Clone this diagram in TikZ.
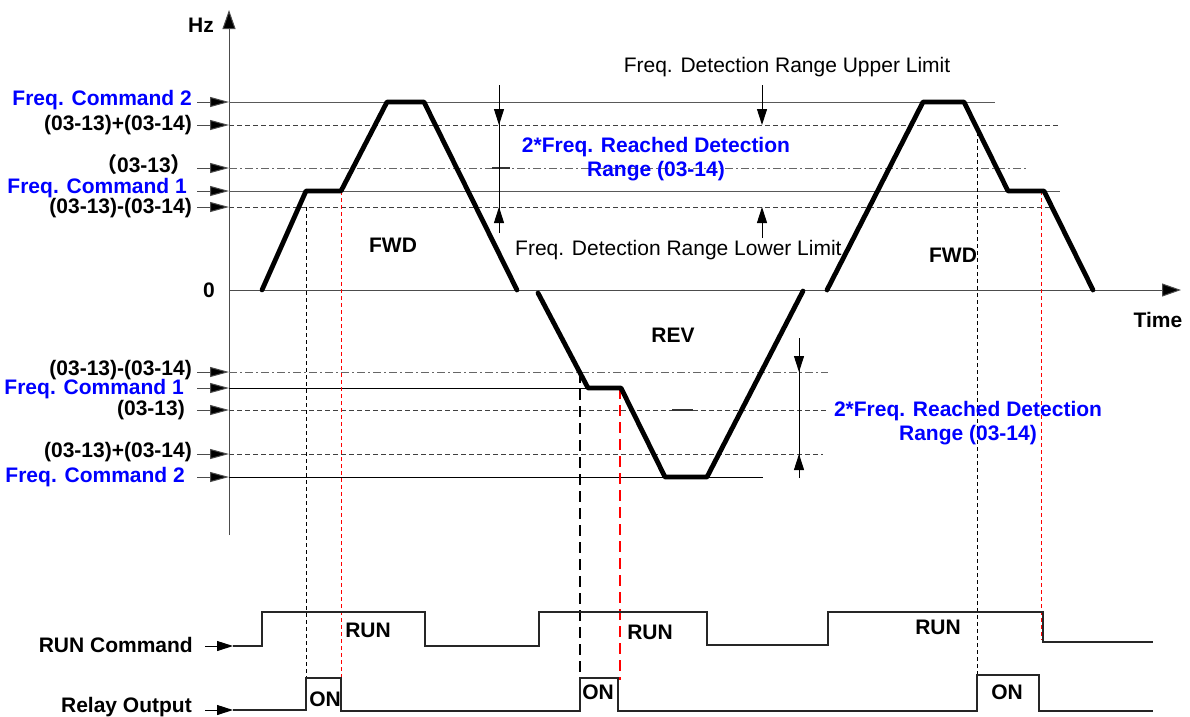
\documentclass[tikz,border=0pt]{standalone}
\usepackage{fontspec}
\setmainfont{Liberation Sans}
\newfontfamily\cjk{Noto Sans CJK SC}
\usetikzlibrary{arrows.meta}
\begin{document}
\begin{tikzpicture}[x=1pt,y=-1pt,
  lbl/.style={font=\fontsize{21}{24}\selectfont\bfseries, inner sep=0pt},
  blbl/.style={lbl, text=blue},
  nrm/.style={font=\fontsize{21}{24}\selectfont, inner sep=0pt},
  gline/.style={draw=black!65, line width=1pt},
  bline/.style={draw=black, line width=1pt},
  dline/.style={draw=black!75, line width=1pt, dash pattern=on 5pt off 3pt},
  ddline/.style={draw=black!60, line width=1pt, dash pattern=on 8pt off 3pt on 2pt off 3pt},
  tarr/.style={draw=black!70, line width=1pt, -{Triangle[length=19pt,width=10pt,fill=black]}},
  sarr/.style={draw=black, line width=1pt, -{Triangle[length=16pt,width=10pt,fill=black]}},
  axarr/.style={draw=black!70, line width=1pt, -{Triangle[length=19pt,width=13pt,fill=black]}},
  trap/.style={draw=black, line width=4.8pt, line cap=round, line join=round},
  vblack/.style={draw=black, line width=0.9pt, dash pattern=on 4pt off 3pt},
  vred/.style={draw=red, line width=0.9pt, dash pattern=on 4pt off 3pt},
  vblackL/.style={draw=black, line width=1.6pt, dash pattern=on 11pt off 6pt},
  vredL/.style={draw=red, line width=1.6pt, dash pattern=on 11pt off 6pt},
  sig/.style={draw=black!85, line width=1.2pt},
]
\useasboundingbox (0,0) rectangle (1190,716);

% axes
\coordinate (yb) at (229,535);
\coordinate (yt) at (229,10);
\coordinate (x0) at (229,290);
\coordinate (xe) at (1181,290);
\draw[axarr] (yb) -- (yt);
\draw[axarr] (x0) -- (xe);
\node[lbl, anchor=east] (hz) at (214,25) {Hz};
\node[lbl] (zero) at (209,290) {0};
\node[lbl] (time) at (1158,320) {Time};

% upper levels
\draw[gline] (229,102) -- (995,102);
\draw[dline] (229,125) -- (1060,125);
\draw[ddline] (229,168) -- (1027,168);
\draw[gline] (229,191) -- (1060,191);
\draw[dline] (229,207) -- (1053,207);
\draw[draw=black!80, line width=1.2pt] (492,168) -- (510,168);

% lower levels
\draw[ddline] (229,372) -- (828,372);
\draw[bline] (229,388) -- (590,388);
\draw[dline] (229,410) -- (828,410);
\draw[dline] (229,454) -- (823,454);
\draw[bline] (229,477) -- (763,477);
\draw[draw=black!80, line width=1.2pt] (672,410) -- (693,410);

% level labels (upper)
\node[blbl, anchor=east] (u1) at (192,100) {Freq. Command 2};
\node[lbl, anchor=east] (u2) at (192,125) {(03-13)+(03-14)};
\node[lbl, anchor=east, text height=14pt, text depth=2pt] (u3) at (192,166) {{\cjk （}03-13{\cjk ）}};
\node[blbl, anchor=east, text height=14pt, text depth=4pt] (u4) at (187,188) {Freq. Command 1};
\node[lbl, anchor=east] (u5) at (192,208) {(03-13)-(03-14)};
\foreach \yy in {102,125,168,191,207} \draw[tarr] (197,\yy) -- (229,\yy);

% level labels (lower)
\node[lbl, anchor=east] (l1) at (192,370) {(03-13)-(03-14)};
\node[blbl, anchor=east] (l2) at (184,389) {Freq. Command 1};
\node[lbl, anchor=east] (l3) at (185,410) {(03-13)};
\node[lbl, anchor=east] (l4) at (192,452) {(03-13)+(03-14)};
\node[blbl, anchor=east] (l5) at (185,477) {Freq. Command 2};
\foreach \yy in {372,388,410,454,477} \draw[tarr] (197,\yy) -- (229,\yy);

% vertical guide lines
\draw[vblack] (306,207) -- (306,678);
\draw[vred] (341,191) -- (341,710);
\draw[vblackL] (580,372) -- (580,680);
\draw[vredL] (620,388) -- (620,680);
\draw[vblack] (977,125) -- (977,675);
\draw[vred] (1041,191) -- (1041,640);

% speed profile
\draw[trap] (262,290) -- (306,191) -- (341,191) -- (387,102) -- (424,102) -- (517,290);
\draw[trap] (538,293) -- (588,388) -- (621,388) -- (665,477) -- (707,477) -- (803,291);
\draw[trap] (827,290) -- (923,102) -- (964,102) -- (1008,191) -- (1044,191) -- (1093,290);
\node[lbl] (fwd1) at (393,245) {FWD};
\node[lbl] (rev) at (673,335) {REV};
\node[lbl] (fwd2) at (953,255) {FWD};

% detection range annotations (upper)
\draw[draw=black, line width=1pt] (499,85) -- (499,233);
\draw[sarr] (499,95) -- (499,125);
\draw[sarr] (499,233) -- (499,207);
\node[blbl, align=center] (ann1) at (656,159) {2*Freq. Reached Detection\\Range (03-14)};
\node[nrm] (upl) at (787,67) {Freq. Detection Range Upper Limit};
\draw[sarr] (762,85) -- (762,125);
\node[nrm, anchor=west] (lol) at (515,250) {Freq. Detection Range Lower Limit};
\draw[sarr] (762,238) -- (762,207);

% detection range annotations (lower)
\draw[draw=black, line width=1pt] (799,338) -- (799,478);
\draw[sarr] (799,345) -- (799,372);
\draw[sarr] (799,478) -- (799,454);
\node[blbl, align=center] (ann2) at (968,423) {2*Freq. Reached Detection\\Range (03-14)};

% RUN command
\node[lbl, anchor=east] (runlbl) at (193,645) {RUN Command};
\coordinate (runs) at (205,646);
\coordinate (runa) at (233,646);
\draw[sarr] (runs) -- (runa);
\draw[sig] (runa) -- (262,646) -- (262,612) -- (425,612) -- (425,646) -- (539,646) -- (539,612) -- (707,612) -- (707,645) -- (828,645) -- (828,612) -- (1043,612) -- (1043,642) -- (1153,642);
\node[lbl] (run1) at (368,630) {RUN};
\node[lbl] (run2) at (650,632) {RUN};
\node[lbl] (run3) at (938,627) {RUN};

% relay output
\node[lbl, anchor=east] (rellbl) at (192,707) {Relay Output};
\coordinate (rels) at (205,710);
\coordinate (rela) at (233,710);
\draw[sarr] (rels) -- (rela);
\draw[sig] (rela) -- (306,710) -- (306,678) -- (341,678) -- (341,711) -- (580,711) -- (580,678) -- (618,678) -- (618,711) -- (977,711) -- (977,675) -- (1039,675) -- (1039,711) -- (1153,711);
\node[lbl] (on1) at (325,699) {ON};
\node[lbl] (on2) at (598,692) {ON};
\node[lbl] (on3) at (1007,692) {ON};
\end{tikzpicture}
\end{document}
